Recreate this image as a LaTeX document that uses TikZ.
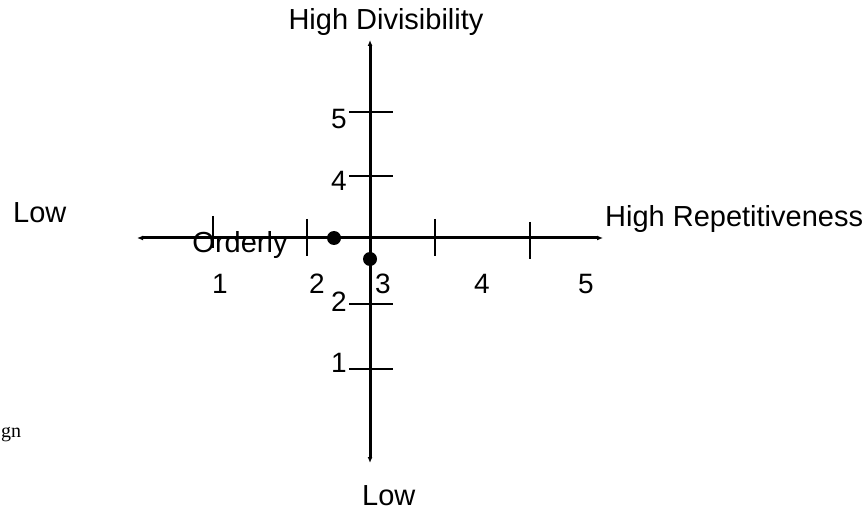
\documentclass[tikz,border=0pt]{standalone}
\usepackage{fontspec}
\setmainfont{Liberation Sans}
\newfontfamily\serifcut{Liberation Serif}
\usetikzlibrary{arrows.meta,positioning}

\begin{document}
\begin{tikzpicture}[
    x=1pt, y=-1pt,
    axis/.style={line width=3pt, {Latex[length=6pt,width=5pt]}-{Latex[length=6pt,width=5pt]}},
    tick/.style={line width=1.3pt},
    lbl/.style={font=\fontsize{29}{32}\selectfont, inner sep=0pt, anchor=base},
    num/.style={font=\fontsize{28}{30}\selectfont, inner sep=0pt, anchor=base},
    dot/.style={circle, fill=black, inner sep=0pt, minimum size=14pt}
]
\useasboundingbox (0,0) rectangle (866,510);

% Axis ends
\coordinate (xl) at (137,238);
\coordinate (xr) at (603,238);
\coordinate (yt) at (370,40);
\coordinate (yb) at (370,463);

% Axes
\draw[axis] (xl) -- (xr);
\draw[axis] (yb) -- (yt);

% Ticks on the horizontal axis
\foreach \x/\a/\b in {213/216/248, 307/219/256, 435/219/256, 530/222/259}
    \draw[tick] (\x,\a) -- (\x,\b);

% Ticks on the vertical axis
\foreach \y in {112,176,304,369}
    \draw[tick] (349,\y) -- (393,\y);

% Axis labels
\node[lbl, anchor=base west] (lowx) at (13,223) {Low};
\node[lbl, anchor=base west] (highx) at (605,227) {High Repetitiveness};
\node[lbl] (highy) at (386,30) {High Divisibility};
\node[lbl, anchor=base west] (lowy) at (362,505) {Low};

% Scale numbers
\foreach \x/\n in {220/1, 317/2, 383/3, 482/4, 586/5}
    \node[num] (h\n) at (\x,293) {\n};
\foreach \y/\n in {129/5, 191/4, 311/2, 372/1}
    \node[num, anchor=base east] (v\n) at (347,\y) {\n};

% Points
\node[dot] (p1) at (334,238) {};
\node[dot] (p2) at (370,259) {};
\node[lbl] (orderly) at (240,253) {Orderly};

% Caption fragment
\node[font=\serifcut\fontsize{20}{24}\selectfont, inner sep=0pt, anchor=base west] (cut) at (1,437) {gn};

\end{tikzpicture}
\end{document}
